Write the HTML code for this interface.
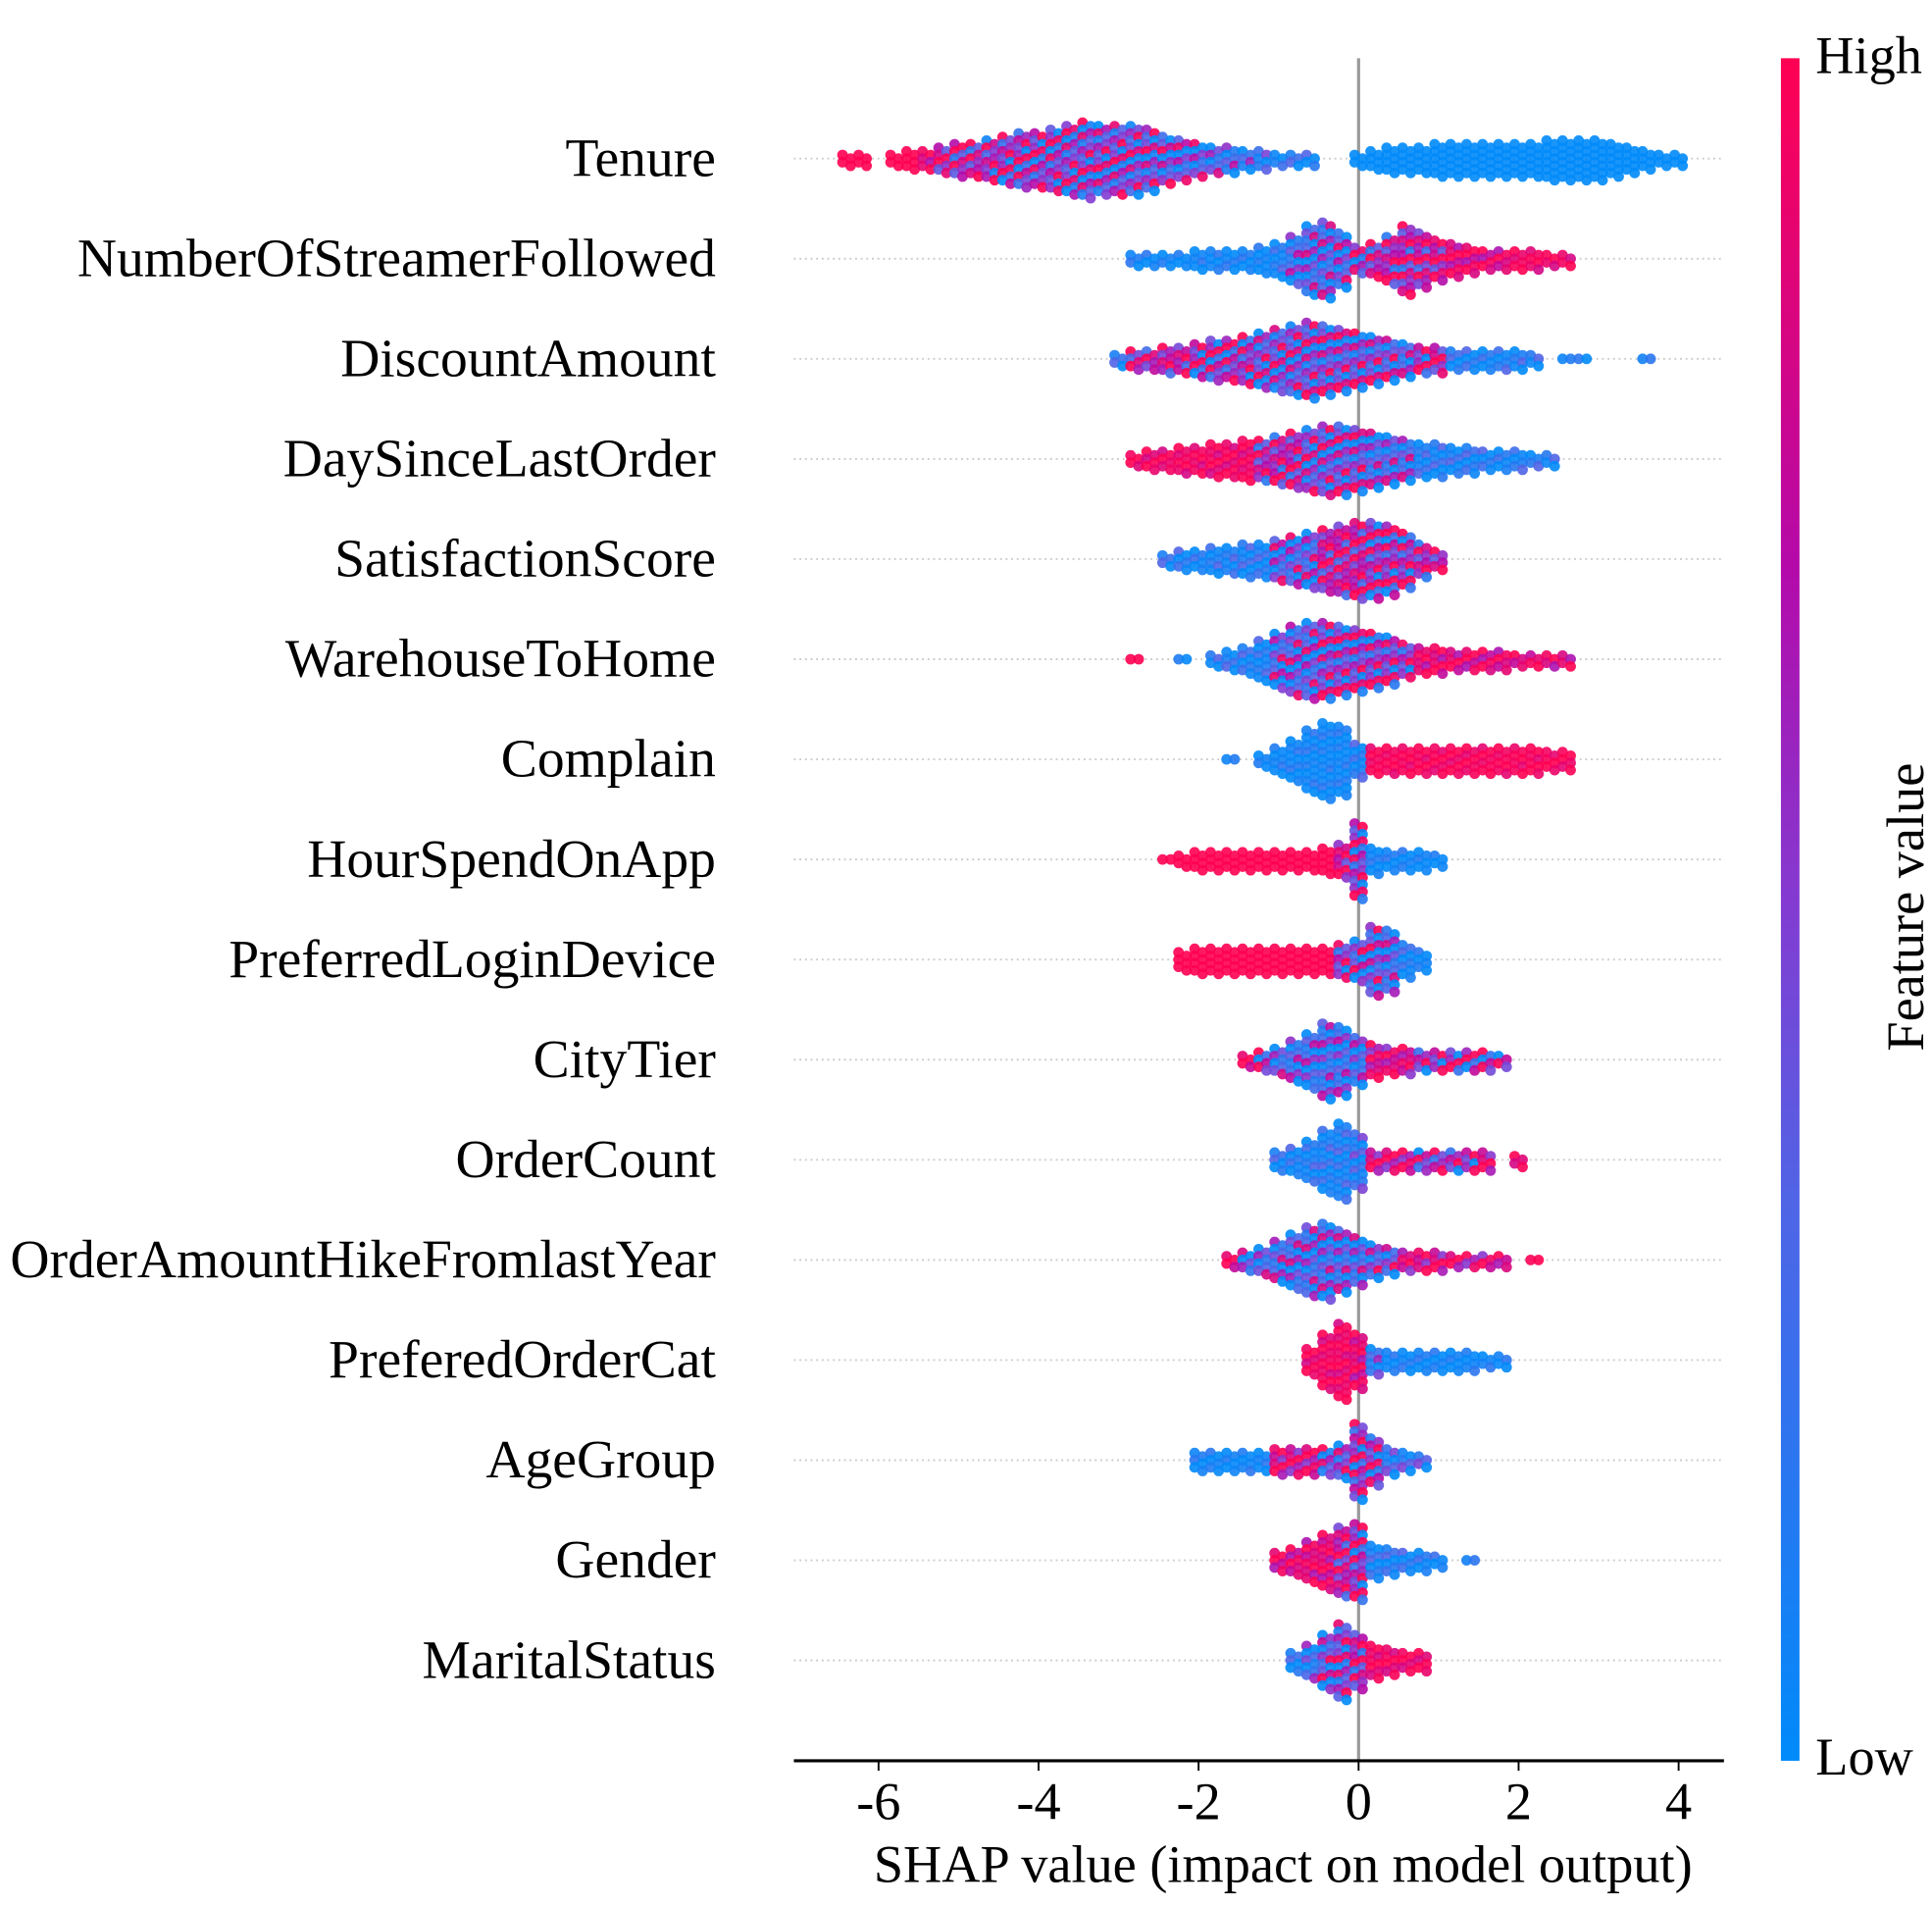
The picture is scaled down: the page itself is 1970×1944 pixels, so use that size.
<!DOCTYPE html>
<html><head><meta charset="utf-8"><style>html,body{margin:0;padding:0;background:#fff}svg{display:block}text{font-family:"Liberation Serif",serif;fill:#000}</style></head>
<body>
<svg id="chart" width="1970" height="1944" viewBox="0 0 1560 1539" preserveAspectRatio="none" xmlns="http://www.w3.org/2000/svg">
<defs><linearGradient id="cb" x1="0" y1="1" x2="0" y2="0">
<stop offset="0" stop-color="rgb(0,138,250)"/><stop offset="0.33" stop-color="rgb(80,100,230)"/><stop offset="0.5" stop-color="rgb(130,60,210)"/><stop offset="0.7" stop-color="rgb(180,10,170)"/><stop offset="1" stop-color="rgb(255,0,82)"/></linearGradient></defs>
<g id="grid"></g>
<line x1="1097" y1="47" x2="1097" y2="1421" stroke="#999" stroke-width="2.5"/>
<g id="dots"></g>
<g id="labels"></g>
<line x1="641" y1="1421" x2="1392" y2="1421" stroke="#000" stroke-width="2.5"/>
<g id="xticks"></g>
<text x="1036" y="1519" font-size="43" text-anchor="middle">SHAP value (impact on model output)</text>
<rect x="1438" y="47" width="15" height="1374" fill="url(#cb)"/>
<text x="1466" y="59" font-size="43">High</text>
<text x="1466" y="1432" font-size="43">Low</text>
<text font-size="43" text-anchor="middle" transform="translate(1553,732) rotate(-90)">Feature value</text>
</svg>
<script>
const features=["Tenure","NumberOfStreamerFollowed","DiscountAmount","DaySinceLastOrder","SatisfactionScore","WarehouseToHome","Complain","HourSpendOnApp","PreferredLoginDevice","CityTier","OrderCount","OrderAmountHikeFromlastYear","PreferedOrderCat","AgeGroup","Gender","MaritalStatus"];
const xTicks=[-6,-4,-2,0,2,4];
const binStart=[-6.4,-2.8,-3.0,-2.8,-2.4,-2.8,-1.6,-2.4,-2.2,-1.4,-1.0,-1.6,-0.6,-2.0,-1.0,-0.8];
const tenureCounts=[2,2,0,2,3,3,4,5,5,6,7,8,8,9,10,11,10,10,10,9,7,6,5,4,4,3,3,2,2,2,0,0,2,3,4,4,4,5,5,5,5,5,5,5,6,6,6,6,5,4,3,2,2];
const tenureColors=[1,1,1,1,1,.9,.8,.7,.7,.65,.6,.6,.55,.55,.5,.5,.5,.5,.45,.45,.4,.35,.35,.3,.25,.2,.15,.1,.1,.1,0,0,0,0,0,0,0,0,0,0,0,0,0,0,0,0,0,0,0,0,0,0,0];
const streamerCounts=[2,2,2,2,3,3,3,3,4,5,7,10,11,8,4,5,7,10,8,6,5,4,3,3,3,3,2,2];
const streamerColors=[.05,.05,.05,.05,.05,.05,.05,.05,.05,.1,.25,.3,.3,.35,.5,.7,.7,.7,.75,.8,.9,.9,.9,.9,.95,.95,.95,.95];
const discountCounts=[2,3,3,4,4,5,6,6,7,8,9,10,11,10,9,8,7,6,5,4,4,3,3,3,3,3,2,0,1,1,0,0,0,1];
const discountColors=[.1,.75,.75,.75,.75,.6,.6,.6,.6,.45,.45,.45,.45,.45,.45,.45,.45,.4,.3,.6,.8,.1,.1,.1,.1,.1,.1,.05,.05,.05,.05,.05,.05,.05];
const dayCounts=[2,3,3,4,4,5,5,6,6,7,8,9,10,10,9,8,7,6,5,5,4,4,3,3,3,2,2];
const dayColors=[.95,.95,.95,.95,.95,.95,.95,.95,.7,.7,.7,.45,.45,.45,.45,.3,.3,.3,.1,.1,.1,.1,.1,.1,.1,.1,.1];
const satCounts=[2,3,3,4,4,5,5,6,7,8,9,10,11,11,10,8,5,3];
const satColors=[.1,.1,.1,.1,.1,.1,.1,.35,.35,.35,.75,.75,.75,.6,.6,.6,.7,.7];
const wareCounts=[1,0,0,1,0,2,3,4,6,8,10,11,11,10,9,8,7,5,4,4,3,3,3,3,2,2,2,2];
const wareColors=[1,0,0,.05,0,.1,.1,.1,.1,.35,.35,.35,.5,.5,.5,.55,.55,.55,.9,.9,.9,.9,.9,.9,.9,.9,.9,.9];
const complainCounts=[1,0,2,4,6,9,11,10,5,4,4,4,4,4,4,4,4,4,4,4,3,3];
const complainColors=[.05,.05,.05,.05,.05,.05,.05,.05,.1,.97,.97,.97,.97,.97,.97,.97,.97,.97,.97,.97,.97,.97];
const hourCounts=[1,2,3,3,3,3,3,3,3,3,4,5,11,4,3,3,3,2];
const hourColors=[1,1,1,1,1,1,1,1,1,1,1,.8,.55,.05,.05,.05,.05,.05];
const loginCounts=[3,4,4,4,4,4,4,4,4,4,5,6,10,9,5,3];
const loginColors=[1,1,1,1,1,1,1,1,1,1,.55,.4,.4,.3,.1,.05];
const cityCounts=[2,3,4,6,8,11,10,7,5,4,4,3,3,3,3,3,2];
const cityColors=[.9,.6,.3,.25,.25,.25,.25,.25,.85,.85,.85,.6,.6,.6,.6,.6,.6];
const orderCounts=[3,4,6,9,11,8,3,3,3,3,3,3,3,3,0,2];
const orderColors=[.1,.1,.1,.1,.1,.15,.85,.85,.85,.6,.6,.6,.6,.85,0,.95];
const hikeCounts=[2,3,4,6,8,10,11,9,7,5,4,3,3,3,2,2,2,2,0,1];
const hikeColors=[.9,.3,.3,.3,.3,.3,.3,.3,.3,.4,.4,.85,.85,.85,.85,.85,.85,.85,.85,.95];
const catCounts=[4,8,11,8,4,3,3,3,3,3,3,2,2];
const catColors=[.95,.95,.95,.9,.2,.05,.05,.05,.05,.05,.05,.05,.05];
const ageCounts=[3,3,3,3,3,4,4,4,4,5,11,7,4,3,2];
const ageColors=[.05,.05,.05,.05,.05,.85,.85,.85,.5,.5,.6,.55,.15,.15,.15];
const genderCounts=[3,4,6,8,10,11,5,4,3,3,2,0,1];
const genderColors=[.9,.9,.9,.9,.75,.6,.1,.1,.1,.1,.1,.1,.05];
const maritalCounts=[3,5,8,11,8,5,4,3,3];
const maritalColors=[.1,.2,.4,.5,.7,.95,.95,.95,.95];
const counts=[tenureCounts,streamerCounts,discountCounts,dayCounts,satCounts,wareCounts,complainCounts,hourCounts,loginCounts,cityCounts,orderCounts,hikeCounts,catCounts,ageCounts,genderCounts,maritalCounts];
const colorVals=[tenureColors,streamerColors,discountColors,dayColors,satColors,wareColors,complainColors,hourColors,loginColors,cityColors,orderColors,hikeColors,catColors,ageColors,genderColors,maritalColors];

const NS="http://www.w3.org/2000/svg";
const xScale=v=>1097+v*64.6;
const yScale=i=>128+i*80.8;
const BIN=0.2;
const stops=[[0,[0,138,250]],[0.33,[80,100,230]],[0.5,[130,60,210]],[0.7,[180,10,170]],[1,[255,0,82]]];
function col(c){c=Math.max(0,Math.min(1,c));for(let i=1;i<stops.length;i++){if(c<=stops[i][0]){const a=stops[i-1],b=stops[i],t=(c-a[0])/(b[0]-a[0]);return `rgb(${a[1].map((v,k)=>Math.round(v+(b[1][k]-v)*t)).join(',')})`;}}return 'rgb(255,0,82)';}
const mixPattern=[0,.4,-.4,.25,-.25,.1,-.1];
const grid=document.getElementById('grid'),dots=document.getElementById('dots'),labels=document.getElementById('labels'),xt=document.getElementById('xticks');
features.forEach((f,i)=>{
  const y=yScale(i);
  const g=document.createElementNS(NS,'line');
  
  
  g.setAttribute('x1',641);g.setAttribute('x2',1390);g.setAttribute('y1',y);g.setAttribute('y2',y);
  g.setAttribute('stroke','#ccc');g.setAttribute('stroke-width','1.5');g.setAttribute('stroke-dasharray','1.5 3');
  grid.appendChild(g);
  const t=document.createElementNS(NS,'text');
  
  
  t.setAttribute('x',578);t.setAttribute('y',y+14);t.setAttribute('font-size','44');t.setAttribute('text-anchor','end');
  t.textContent=f;labels.appendChild(t);
  const grp=document.createElementNS(NS,'g');
  
  
  counts[i].forEach((n,b)=>{
    const v=binStart[i]+b*BIN;const c=colorVals[i][b];
    const mix=4*c*(1-c);
    [-0.05,0.05].forEach((dx,s)=>{
      const cx=xScale(v+dx);
      for(let k=0;k<n;k++){
        const cy=y+(k-(n-1)/2)*5.8+(s?2.9:0)*(n>1?1:0);
        const d=document.createElementNS(NS,'circle');
        
        
        d.setAttribute('cx',cx.toFixed(1));d.setAttribute('cy',cy.toFixed(1));d.setAttribute('r','4.3');
        d.setAttribute('fill',col(c+mixPattern[(k+s*3+b)%mixPattern.length]*mix*1.6));
        d.setAttribute('fill-opacity','0.9');
        grp.appendChild(d);
      }
    });
  });
  dots.appendChild(grp);
});
xTicks.forEach(v=>{
  const x=xScale(v);
  const l=document.createElementNS(NS,'line');
  
  
  l.setAttribute('x1',x);l.setAttribute('x2',x);l.setAttribute('y1',1421);l.setAttribute('y2',1429);l.setAttribute('stroke','#000');l.setAttribute('stroke-width','1.5');
  xt.appendChild(l);
  const t=document.createElementNS(NS,'text');
  
  
  t.setAttribute('x',x);t.setAttribute('y',1468);t.setAttribute('font-size','43');t.setAttribute('text-anchor','middle');
  t.textContent=v;xt.appendChild(t);
});
</script>
</body></html>
